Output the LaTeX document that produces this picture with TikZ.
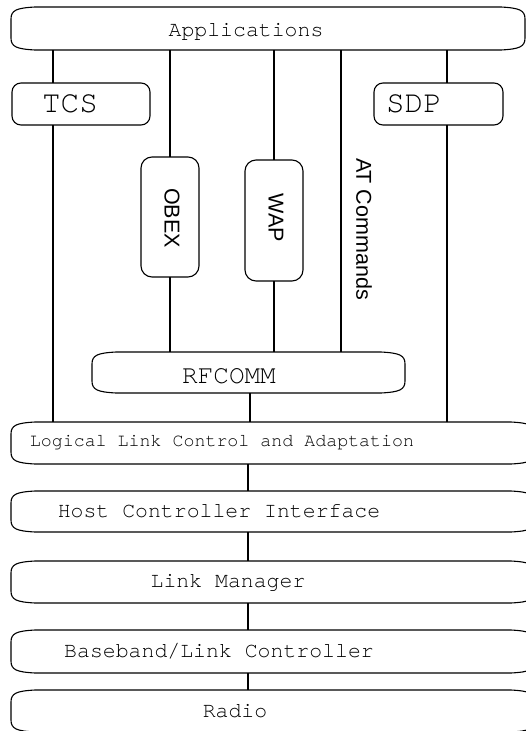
\documentclass[tikz,border=0pt]{standalone}
\usepackage{fontspec}
\newfontfamily\monofam{texgyrecursor-regular.otf}
\newfontfamily\sansfam{Liberation Sans}

% Outline of a wide layer bar: flat top and bottom, soft bulging corners
\newcommand\tapeoutline[1]{%
  \draw[edge] ([shift={(24,0)}]#1.north west) -- ([shift={(-24,0)}]#1.north east)
    .. controls ([shift={(-6,1)}]#1.north east) and ([shift={(0,3)}]#1.north east) .. ([shift={(0,12)}]#1.north east)
    -- ([shift={(0,-12)}]#1.south east)
    .. controls ([shift={(0,-3)}]#1.south east) and ([shift={(-6,-1)}]#1.south east) .. ([shift={(-24,0)}]#1.south east)
    -- ([shift={(24,0)}]#1.south west)
    .. controls ([shift={(6,-1)}]#1.south west) and ([shift={(0,-3)}]#1.south west) .. ([shift={(0,-12)}]#1.south west)
    -- ([shift={(0,12)}]#1.north west)
    .. controls ([shift={(0,3)}]#1.north west) and ([shift={(6,1)}]#1.north west) .. ([shift={(24,0)}]#1.north west);}

\begin{document}
\begin{tikzpicture}[x=1pt,y=-1pt,
  edge/.style={line width=1.1pt,black},
  area/.style={rectangle,draw=none,inner sep=0pt,outer sep=0pt},
  smallbox/.style={rectangle,draw,line width=1.1pt,rounded corners=9pt,inner sep=0pt,outer sep=0pt},
  barlabel/.style={font=\monofam\fontsize{21.5}{24}\selectfont,inner sep=0pt,anchor=base},
  biglabel/.style={font=\monofam\fontsize{31}{34}\selectfont,inner sep=0pt,anchor=base},
  vlabel/.style={font=\sansfam\fontsize{21.5}{24}\selectfont,inner sep=0pt,rotate=-90}]
\useasboundingbox (0,0) rectangle (526,731);

% layer bars
\node[area,minimum width=514pt,minimum height=43pt] (apps)   at (268,28.5) {};
\node[area,minimum width=313pt,minimum height=41pt] (rfcomm) at (248.5,372.5) {};
\node[area,minimum width=524pt,minimum height=42pt] (l2cap)  at (273,443) {};
\node[area,minimum width=524pt,minimum height=41pt] (hci)    at (273,511.5) {};
\node[area,minimum width=524pt,minimum height=42pt] (lm)     at (273,582) {};
\node[area,minimum width=524pt,minimum height=43pt] (bb)     at (273,651.5) {};
\node[area,minimum width=524pt,minimum height=42pt] (radio)  at (273,711) {};
\foreach \n in {apps,rfcomm,l2cap,hci,lm,bb,radio} {\tapeoutline{\n}}

% protocol boxes
\node[smallbox,minimum width=138pt,minimum height=42pt] (tcs)  at (81,104) {};
\node[smallbox,minimum width=129pt,minimum height=42pt] (sdp)  at (438.5,104) {};
\node[smallbox,rounded corners=11pt,minimum width=58pt,minimum height=120pt] (obex) at (170,217) {};
\node[smallbox,rounded corners=11pt,minimum width=58pt,minimum height=121pt] (wap)  at (274,220.5) {};

% labels
\node[barlabel] (appst)   at (246,36)  {Applications};
\node[barlabel,font=\monofam\fontsize{26}{28}\selectfont] (rfcommt) at (229,383) {RFCOMM};
\node[barlabel,font=\monofam\fontsize{18.3}{20}\selectfont] (l2capt) at (222,446) {Logical Link Control and Adaptation};
\node[barlabel] (hcit)   at (219,517) {Host Controller Interface};
\node[barlabel] (lmt)    at (228,587) {Link Manager};
\node[barlabel] (bbt)    at (219,657) {Baseband/Link Controller};
\node[barlabel] (radiot) at (235,717) {Radio};
\node[biglabel] (tcst) at (70,112)  {TCS};
\node[biglabel] (sdpt) at (414,112) {SDP};
\node[vlabel] (obext) at (172,218) {OBEX};
\node[vlabel] (wapt)  at (276,218) {WAP};
\node[vlabel] (att)   at (364,229) {AT Commands};

% x positions of the vertical links
\coordinate (tcsx) at (53,0);
\coordinate (sdpx) at (447,0);
\coordinate (atx)  at (341,0);
\coordinate (rfx)  at (250,0);
\coordinate (stx)  at (248,0);

% links
\draw[edge] (apps.south -| tcsx) -- (tcs.north -| tcsx);
\draw[edge] (tcs.south -| tcsx) -- (l2cap.north -| tcsx);
\draw[edge] (apps.south -| obex.north) -- (obex.north);
\draw[edge] (obex.south) -- (rfcomm.north -| obex.south);
\draw[edge] (apps.south -| wap.north) -- (wap.north);
\draw[edge] (wap.south) -- (rfcomm.north -| wap.south);
\draw[edge] (apps.south -| atx) -- (rfcomm.north -| atx);
\draw[edge] (apps.south -| sdpx) -- (sdp.north -| sdpx);
\draw[edge] (sdp.south -| sdpx) -- (l2cap.north -| sdpx);
\draw[edge] (rfcomm.south -| rfx) -- (l2cap.north -| rfx);
\draw[edge] (l2cap.south -| stx) -- (hci.north -| stx);
\draw[edge] (hci.south -| stx) -- (lm.north -| stx);
\draw[edge] (lm.south -| stx) -- (bb.north -| stx);
\draw[edge] (bb.south -| stx) -- (radio.north -| stx);
\end{tikzpicture}
\end{document}
